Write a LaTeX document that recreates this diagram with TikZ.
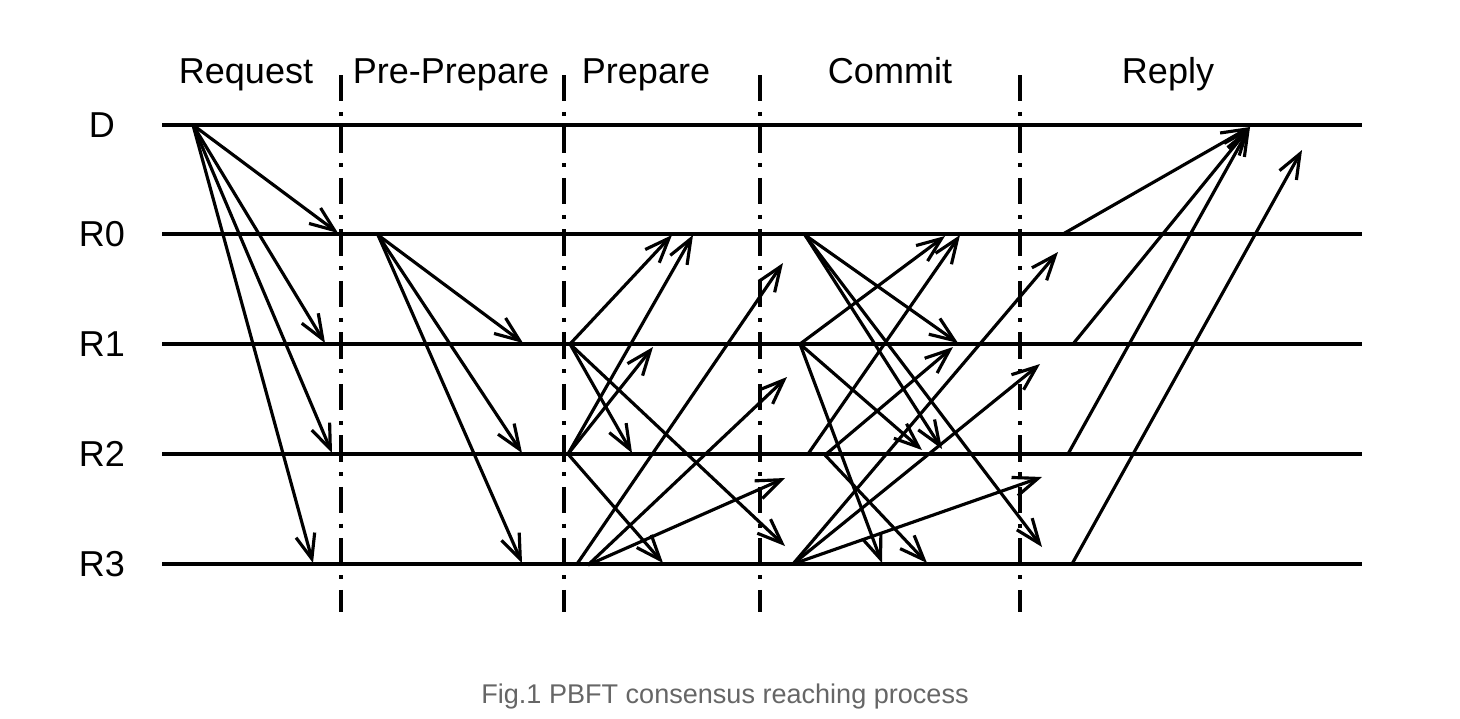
\documentclass[tikz,border=0pt]{standalone}
\usepackage{fontspec}
\setmainfont{Liberation Sans}
\usetikzlibrary{arrows.meta}
\definecolor{capgray}{RGB}{102,102,102}

\begin{document}
\begin{tikzpicture}[x=0.02cm,y=-0.02cm,
  proc/.style={line width=2pt},
  phase/.style={line width=2.4pt,dash pattern=on 15pt off 6pt on 2.3pt off 6pt},
  msg/.style={line width=1.8pt,-{Straight Barb[length=14pt,width=11pt]}},
  lbl/.style={font=\fontsize{20.5}{24}\selectfont,inner sep=0pt},
  hdr/.style={lbl,anchor=base}]

  \useasboundingbox (0,0) rectangle (1460,718);

  % phase headers
  \node[hdr] (request) at (246,83) {Request};
  \node[hdr] (preprep) at (451,83) {Pre-Prepare};
  \node[hdr] (prepare) at (646,83) {Prepare};
  \node[hdr] (commit)  at (890,83) {Commit};
  \node[hdr] (reply)   at (1168,83) {Reply};

  % replica time lines
  \foreach \n/\y in {D/125,R0/234,R1/344,R2/454,R3/564} {
    \node[lbl] (\n) at (102,\y) {\n};
    \coordinate (\n-l) at (162,\y);
    \coordinate (\n-r) at (1362,\y);
    \draw[proc] (\n-l) -- (\n-r);
  }

  % phase borders
  \foreach \x [count=\i] in {341,564,760,1020} {
    \coordinate (sep\i-t) at (\x,75);
    \coordinate (sep\i-b) at (\x,612);
    \draw[phase] (sep\i-t) -- (sep\i-b);
  }

  % message end points
  \foreach \n/\x/\y in {
    rq/193/125, rq0/338/233, rq1/325/343, rq2/332/453, rq3/313/563,
    pp/378/235, pp1/523/343, pp2/522/453, pp3/522/563,
    p1/570/344, p1a/672/235, p1b/632/453, p1c/785/546,
    p2/568/454, p2a/693/235, p2b/653/347, p2c/663/563,
    p3/577/564, p3a/783/263, p3x/588/565, p3b/787/377, p3c/785/478,
    c0/805/235, c0a/958/343, c0b/942/449, c0c/1042/547,
    c1/800/344, c1a/945/236, c1b/922/450, c1c/882/563,
    c2/808/454, c2a/960/235, c2x/825/455, c2b/953/347, c2c/927/563,
    c3/793/564, c3a/1058/252, c3b/1040/364, c3c/1042/477,
    y0/1063/234, y1/1073/344, y2/1068/454, y3/1072/564,
    yD/1250/127, yE/1302/150}
    \coordinate (\n) at (\x,\y);

  % messages
  \foreach \a/\b in {rq/rq0, rq/rq1, rq/rq2, rq/rq3,
    pp/pp1, pp/pp2, pp/pp3,
    p1/p1a, p1/p1b, p1/p1c, p2/p2a, p2/p2b, p2/p2c,
    p3/p3a, p3x/p3b, p3x/p3c,
    c0/c0a, c0/c0b, c0/c0c, c1/c1a, c1/c1b, c1/c1c,
    c2/c2a, c2x/c2b, c2x/c2c, c3/c3a, c3/c3b, c3/c3c,
    y0/yD, y1/yD, y2/yD, y3/yE}
    \draw[msg] (\a) -- (\b);

  \node[font=\fontsize{15.4}{18}\selectfont,text=capgray,anchor=base] (caption)
    at (725,703) {Fig.1 PBFT consensus reaching process};
\end{tikzpicture}
\end{document}
